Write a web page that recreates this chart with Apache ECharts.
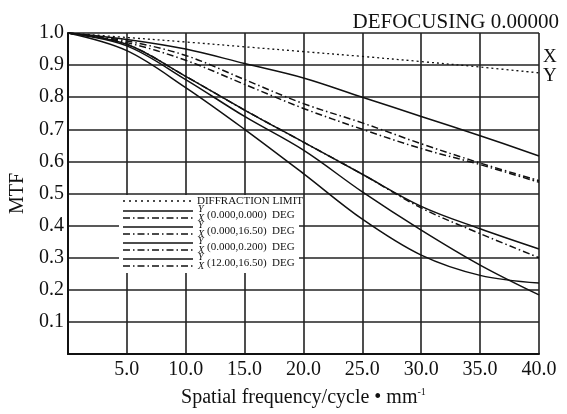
<!DOCTYPE html>
<html>
<head>
<meta charset="utf-8">
<script src="https://cdn.jsdelivr.net/npm/echarts@6/dist/echarts.min.js"></script>
<style>
html, body { margin: 0; padding: 0; background: #fff; }
#main { width: 567px; height: 414px; }
</style>
</head>
<body>
<div id="main"></div>
<script>
// spatial frequency (cycle/mm)
var freq = [0, 5, 10, 15, 20, 25, 30, 35, 40];
var yTicks = [0.1, 0.2, 0.3, 0.4, 0.5, 0.6, 0.7, 0.8, 0.9, 1.0];

// MTF values
var diffLimit = [1.0, 0.986, 0.972, 0.957, 0.942, 0.927, 0.911, 0.894, 0.876];
var topY     = [1.0, 0.98, 0.95, 0.905, 0.86, 0.80, 0.74, 0.68, 0.617];
var dashUp   = [1.0, 0.975, 0.93, 0.855, 0.78, 0.72, 0.655, 0.595, 0.54];
var dashLow  = [1.0, 0.97, 0.915, 0.84, 0.765, 0.70, 0.64, 0.59, 0.535];
var midY     = [1.0, 0.965, 0.865, 0.76, 0.66, 0.56, 0.46, 0.39, 0.327];
var midX     = [1.0, 0.965, 0.865, 0.76, 0.66, 0.56, 0.455, 0.375, 0.30];
var crossY   = [1.0, 0.96, 0.855, 0.74, 0.635, 0.505, 0.386, 0.277, 0.184];
var lowY     = [1.0, 0.945, 0.83, 0.70, 0.562, 0.42, 0.308, 0.245, 0.221];

var legendNames = ['(0.000,0.000)  DEG', '(0.000,16.50)  DEG', '(0.000,0.200)  DEG', '(12.00,16.50)  DEG'];

var serif = '"Liberation Serif", "DejaVu Serif", serif';
var ink = '#111';
var dashDot = [7, 3, 1.5, 3];

function pairs(vals) {
	var out = [];
	for (var i = 0; i < freq.length; i++) {
		out.push([freq[i], vals[i]]);
	}
	return out;
}

function curve(name, vals, type, width) {
	return {
		name: name,
		type: 'line',
		data: pairs(vals),
		smooth: 0.35,
		symbol: 'none',
		silent: true,
		lineStyle: { color: ink, width: width || 1.5, type: type }
	};
}

// legend drawn by hand, like the original plot
var graphics = [{
	type: 'rect',
	shape: { x: 119, y: 195, width: 180, height: 78 },
	style: { fill: '#fff' },
	z: 50
}, {
	type: 'line',
	shape: { x1: 123, y1: 201, x2: 193, y2: 201 },
	style: { stroke: ink, lineWidth: 1.5, lineDash: [2, 4] },
	z: 51
}, {
	type: 'text',
	x: 197, y: 201,
	style: { text: 'DIFFRACTION LIMIT', font: '11px ' + serif, fill: ink, verticalAlign: 'middle' },
	z: 51
}];
for (var i = 0; i < legendNames.length; i++) {
	var y0 = 211 + i * 16;
	graphics.push({
		type: 'line',
		shape: { x1: 123, y1: y0, x2: 193, y2: y0 },
		style: { stroke: ink, lineWidth: 1.5 },
		z: 51
	});
	graphics.push({
		type: 'line',
		shape: { x1: 123, y1: y0 + 7, x2: 193, y2: y0 + 7 },
		style: { stroke: ink, lineWidth: 1.5, lineDash: dashDot },
		z: 51
	});
	graphics.push({
		type: 'text', x: 198, y: y0 - 2,
		style: { text: 'Y', font: 'italic 10px ' + serif, fill: ink, verticalAlign: 'middle' }, z: 51
	});
	graphics.push({
		type: 'text', x: 198, y: y0 + 7,
		style: { text: 'X', font: 'italic 10px ' + serif, fill: ink, verticalAlign: 'middle' }, z: 51
	});
	graphics.push({
		type: 'text', x: 207, y: y0 + 4,
		style: { text: legendNames[i], font: '11px ' + serif, fill: ink, verticalAlign: 'middle' }, z: 51
	});
}
graphics.push({
	type: 'text', x: 543, y: 57,
	style: { text: 'X', font: '19px ' + serif, fill: ink, verticalAlign: 'middle' }
});
graphics.push({
	type: 'text', x: 543, y: 76,
	style: { text: 'Y', font: '19px ' + serif, fill: ink, verticalAlign: 'middle' }
});

var myChart = echarts.init(document.getElementById('main'));
var option = {
	backgroundColor: '#fff',
	animation: false,
	title: {
		text: 'DEFOCUSING 0.00000',
		right: 3,
		top: 7,
		textStyle: { fontFamily: serif, fontSize: 21, fontWeight: 'normal', color: ink }
	},
	grid: { left: 67, right: 28, top: 33, bottom: 60 },
	xAxis: {
		type: 'value',
		min: 0, max: 40, interval: 5,
		name: '{a|Spatial frequency/cycle • mm}{s|-1}',
		nameLocation: 'middle',
		nameGap: 33,
		nameTextStyle: {
			rich: {
				a: { fontFamily: serif, fontSize: 20, color: ink },
				s: { fontFamily: serif, fontSize: 10, color: ink, verticalAlign: 'top', padding: [0, 0, 11, 0] }
			}
		},
		axisLine: { lineStyle: { color: ink, width: 2 } },
		axisTick: { show: false },
		axisLabel: {
			fontFamily: serif, fontSize: 20, color: ink, margin: 6,
			formatter: function (v) { return v === 0 ? '' : v.toFixed(1); }
		},
		splitLine: { lineStyle: { color: '#222', width: 1.6 } }
	},
	yAxis: {
		type: 'value',
		min: 0, max: 1, interval: 0.1,
		name: 'MTF',
		nameLocation: 'middle',
		nameGap: 31,
		nameTextStyle: { fontFamily: serif, fontSize: 20, color: ink },
		axisLine: { show: true, lineStyle: { color: ink, width: 2 } },
		axisTick: { show: false },
		axisLabel: {
			fontFamily: serif, fontSize: 20, color: ink, margin: 4,
			formatter: function (v) {
				var t = Math.round(v * 10) / 10;
				return yTicks.indexOf(t) < 0 ? '' : t.toFixed(1);
			}
		},
		splitLine: { lineStyle: { color: '#222', width: 1.6 } }
	},
	graphic: graphics,
	series: [
		curve('DIFFRACTION LIMIT', diffLimit, [2, 3], 1.3),
		curve('top Y', topY, 'solid'),
		curve('upper X', dashUp, dashDot),
		curve('lower X', dashLow, dashDot),
		curve('mid Y', midY, 'solid'),
		curve('mid X', midX, dashDot),
		curve('cross Y', crossY, 'solid'),
		curve('low Y', lowY, 'solid')
	]
};
myChart.setOption(option);
</script>
</body>
</html>
